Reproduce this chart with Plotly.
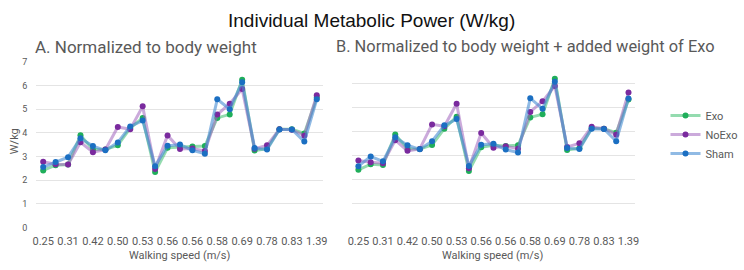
import plotly.graph_objects as go

tick_labels = ["0.25", "0.31", "0.42", "0.50", "0.53", "0.56", "0.56", "0.58", "0.69", "0.78", "0.83", "1.39"]
n_points = 23
x_idx = list(range(n_points))

# Panel A: normalized to body weight
exo_a = [2.41, 2.63, 2.66, 3.90, 3.29, 3.29, 3.47, 4.20, 4.63, 2.34, 3.37, 3.41, 3.42, 3.44, 4.63, 4.78, 6.25, 3.25, 3.33, 4.15, 4.15, 3.97, 5.49]
noexo_a = [2.78, 2.67, 2.66, 3.60, 3.18, 3.29, 4.25, 4.15, 5.12, 2.47, 3.89, 3.32, 3.34, 3.23, 4.77, 5.23, 5.85, 3.33, 3.47, 4.15, 4.13, 3.88, 5.59]
sham_a = [2.55, 2.77, 2.97, 3.77, 3.44, 3.26, 3.59, 4.27, 4.52, 2.59, 3.45, 3.51, 3.26, 3.12, 5.42, 5.00, 6.14, 3.36, 3.29, 4.14, 4.14, 3.63, 5.42]

# Panel B: normalized to body weight + added weight of Exo
exo_b = [2.40, 2.63, 2.60, 3.87, 3.28, 3.27, 3.43, 4.11, 4.61, 2.35, 3.34, 3.42, 3.39, 3.42, 4.58, 4.71, 6.19, 3.22, 3.30, 4.13, 4.11, 3.94, 5.33]
noexo_b = [2.79, 2.71, 2.67, 3.63, 3.19, 3.27, 4.29, 4.21, 5.15, 2.46, 3.93, 3.32, 3.38, 3.28, 4.81, 5.25, 5.89, 3.35, 3.50, 4.19, 4.11, 3.86, 5.62]
sham_b = [2.55, 2.95, 2.75, 3.75, 3.42, 3.25, 3.59, 4.25, 4.51, 2.56, 3.44, 3.48, 3.24, 3.12, 5.38, 4.94, 6.07, 3.31, 3.26, 4.11, 4.10, 3.59, 5.37]

series = [
    ("Exo", "#1fae5a", "rgba(60,190,110,0.55)"),
    ("NoExo", "#7a2a9e", "rgba(160,100,190,0.55)"),
    ("Sham", "#1b6fc2", "rgba(70,140,210,0.6)"),
]

fig = go.Figure()
data_a = [exo_a, noexo_a, sham_a]
data_b = [exo_b, noexo_b, sham_b]
for (name, mc, lc), ya, yb in zip(series, data_a, data_b):
    fig.add_trace(go.Scatter(x=x_idx, y=ya, mode="lines+markers", name=name,
                             line=dict(color=lc, width=3), marker=dict(color=mc, size=6),
                             xaxis="x", yaxis="y", showlegend=False))
    fig.add_trace(go.Scatter(x=x_idx, y=yb, mode="lines+markers", name=name,
                             line=dict(color=lc, width=3), marker=dict(color=mc, size=6),
                             xaxis="x2", yaxis="y2", showlegend=True))

tickvals = list(range(0, n_points, 2))
xcommon = dict(tickmode="array", tickvals=tickvals, ticktext=tick_labels,
               range=[-0.55, 22.5], showgrid=False, zeroline=False, showline=False,
               tickfont=dict(family="Roboto", size=11, color="#595959"), ticks="",
               ticklabelstandoff=6)
ycommon = dict(range=[0, 7.02], dtick=1, showgrid=True, gridcolor="#e4e4e4", gridwidth=1,
               zeroline=False, showline=False,
               tickfont=dict(family="Roboto", size=9, color="#595959"), ticks="",
               ticklabelstandoff=8)

fig.update_layout(
    width=744, height=270,
    margin=dict(l=0, r=0, t=0, b=0),
    paper_bgcolor="white", plot_bgcolor="white",
    font=dict(family="Roboto, sans-serif", color="#595959"),
    xaxis=dict(domain=[0.044, 0.434], anchor="y", **xcommon),
    yaxis=dict(domain=[0.144, 0.78], anchor="x", showticklabels=True, **ycommon),
    xaxis2=dict(domain=[0.473, 0.858], anchor="y2", **xcommon),
    yaxis2=dict(domain=[0.144, 0.79], anchor="x2", showticklabels=False, **ycommon),
    legend=dict(x=0.9, y=0.5, xanchor="left", yanchor="middle",
                font=dict(size=11, color="#595959"), itemwidth=30,
                tracegroupgap=0, bgcolor="rgba(0,0,0,0)"),
    annotations=[
        dict(text="Individual Metabolic Power (W/kg)", x=372, y=17, showarrow=False,
             font=dict(family="Liberation Sans, Arial, sans-serif", size=19, color="#111111")),
        dict(text="A. Normalized to body weight", x=29, y=44, showarrow=False,
             font=dict(size=17, color="#595959"), xanchor="left"),
        dict(text="B. Normalized to body weight + added weight of Exo", x=334, y=44, showarrow=False,
             font=dict(size=16.4, color="#595959"), xanchor="left"),
        dict(text="Walking speed (m/s)", x=178, y=260, showarrow=False,
             font=dict(size=11, color="#595959")),
        dict(text="Walking speed (m/s)", x=495, y=260, showarrow=False,
             font=dict(size=11, color="#595959")),
        dict(text="W/kg", x=10, y=142, showarrow=False, textangle=-90,
             font=dict(size=11, color="#595959")),
    ],
)

# convert pixel-placed annotations to paper coords
W, H = 744, 270
anns = []
for a in fig.layout.annotations:
    a = a.to_plotly_json()
    a["x"] = a["x"] / W
    a["y"] = 1 - a["y"] / H
    a["xref"] = "paper"
    a["yref"] = "paper"
    if "xanchor" not in a:
        a["xanchor"] = "center"
    a["yanchor"] = "middle"
    anns.append(a)
fig.layout.annotations = anns

fig.write_html("out.html")
